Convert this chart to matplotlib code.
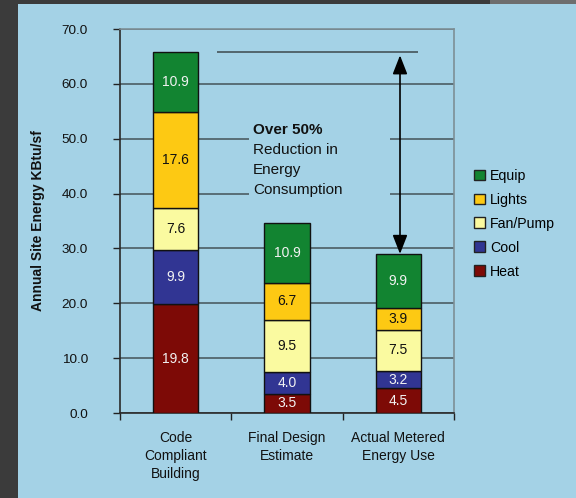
import matplotlib
matplotlib.use("Agg")
import matplotlib.pyplot as plt
from matplotlib.patches import Patch, Rectangle
import numpy as np

plt.rcParams['font.family'] = ['Liberation Sans', 'DejaVu Sans']

# Data
categories = ["Code\nCompliant\nBuilding", "Final Design\nEstimate", "Actual Metered\nEnergy Use"]
components = ["Heat", "Cool", "Fan/Pump", "Lights", "Equip"]
heat = [19.8, 3.5, 4.5]
cool = [9.9, 4.0, 3.2]
fan_pump = [7.6, 9.5, 7.5]
lights = [17.6, 6.7, 3.9]
equip = [10.9, 10.9, 9.9]
series = [heat, cool, fan_pump, lights, equip]
yticks = [0, 10, 20, 30, 40, 50, 60, 70]
note_lines = ["Over 50%", "Reduction in", "Energy", "Consumption"]

colors = ["#7d0a06", "#313593", "#fafaa0", "#fdc913", "#128431"]
label_colors = ["#f2f2f2", "#f2f2f2", "#111111", "#111111", "#f2f2f2"]

panel = "#a4d2e6"
dark = "#3b3b3b"
grid_c = "#4c5d64"

fig = plt.figure(figsize=(5.76, 4.98), dpi=100, facecolor=dark)
# light panel behind everything
fig.patches.append(Rectangle((18/576, 0), 1 - 18/576, 1 - 4/498, transform=fig.transFigure,
                             facecolor=panel, edgecolor="none", zorder=-2))
fig.patches.append(Rectangle((490/576, 1 - 4/498), 1 - 490/576, 4/498, transform=fig.transFigure,
                             facecolor="#6e6e6e", edgecolor="none", zorder=-2))

ax = fig.add_axes([120/576, 1 - 413/498, 334/576, 384/498])
ax.set_zorder(1)
ax.set_facecolor(panel)

x = np.arange(len(categories))
width = 0.405
bottom = np.zeros(len(categories))
for vals, col, lc in zip(series, colors, label_colors):
    vals = np.array(vals)
    ax.bar(x, vals, width, bottom=bottom, color=col, edgecolor="#111111", linewidth=1.0, zorder=3)
    for xi, b, v in zip(x, bottom, vals):
        ax.text(xi, b + v / 2, f"{v:.1f}", ha="center", va="center", fontsize=10,
                color=lc, zorder=4)
    bottom += vals

totals = bottom

ax.set_xlim(-0.5, 2.5)
ax.set_ylim(0, 70)
ax.set_yticks(yticks)
ax.set_yticklabels([f"{t:.1f}" for t in yticks], fontsize=9.7, color="#111111")
ax.yaxis.grid(True, color=grid_c, linewidth=1.2, zorder=1)
ax.set_axisbelow(True)

ax.set_xticks(x)
ax.set_xticklabels(categories, fontsize=10, color="#111111", linespacing=1.35)
ax.set_xticks(np.arange(-0.5, 3.0, 1.0), minor=True)
ax.tick_params(axis="x", which="major", length=0, pad=13)
ax.tick_params(axis="x", which="minor", length=5, width=1.0, color="#222222", direction="out")
ax.tick_params(axis="y", length=5, width=1.0, color="#222222", direction="out", pad=18)

for side in ["left", "bottom"]:
    ax.spines[side].set_color("#2a2a2a")
    ax.spines[side].set_linewidth(1.2)
for side in ["top", "right"]:
    ax.spines[side].set_color("#7d8f96")
    ax.spines[side].set_linewidth(1.2)

ax.set_ylabel("Annual Site Energy KBtu/sf", fontsize=10, fontweight="bold", color="#111111")
ax.yaxis.set_label_coords(-0.225, 0.5)

# backdrop behind the note so grid lines stop around it
ax.add_patch(Rectangle((0.66, 36.5), 1.265, 18.5, facecolor=panel, edgecolor="none", zorder=2))
note_y = [51.6, 47.95, 44.3, 40.65]
for i, (line, yy) in enumerate(zip(note_lines, note_y)):
    ax.text(0.695, yy, line, ha="left", va="center", fontsize=11, color="#111111",
            fontweight="bold" if i == 0 else "normal", zorder=4)

# reference line at the code-compliant total and reduction arrow
ax.plot([0.37, 2.18], [totals[0], totals[0]], color=grid_c, linewidth=1.3, zorder=4,
        solid_capstyle="butt")
ax.annotate("", xy=(2.015, totals[2]), xytext=(2.015, totals[0] - 0.6),
            arrowprops=dict(arrowstyle="<|-|>,head_length=1.15,head_width=0.45",
                            mutation_scale=10, color="black", linewidth=1.2,
                            shrinkA=0, shrinkB=0), zorder=5)

# legend
handles = [Patch(facecolor=c, edgecolor="#222222", linewidth=1.0, label=n)
           for c, n in zip(colors[::-1], components[::-1])]
fig.legend(handles=handles, loc="upper left", bbox_to_anchor=(474/576, 1 - 169/498),
           frameon=False, fontsize=10.2, handlelength=0.8, handleheight=0.8,
           handletextpad=0.35, labelspacing=0.7, borderpad=0, borderaxespad=0)

fig.savefig("out.png", dpi=100, facecolor=fig.get_facecolor())
